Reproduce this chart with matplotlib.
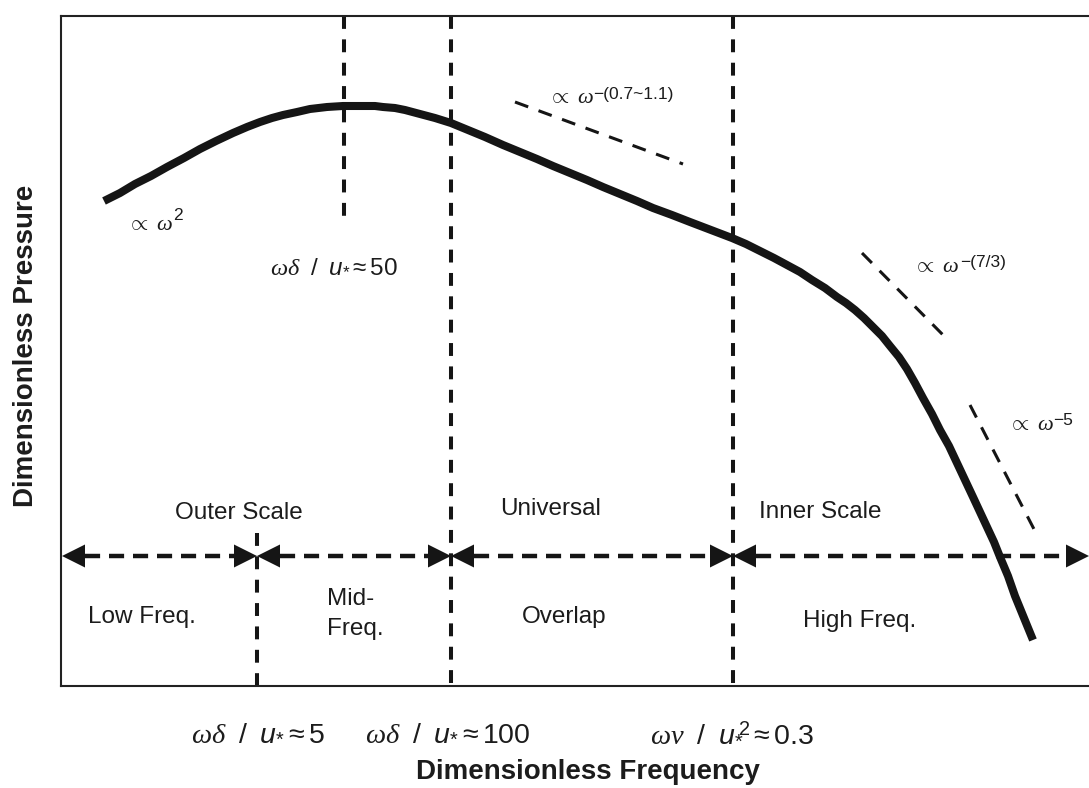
import matplotlib
matplotlib.use('Agg')
import matplotlib.pyplot as plt

# schematic coordinates (pixel-like units, y grows downward)
curve_x = [104, 120, 135, 151, 167, 184, 200, 216, 233, 247, 260, 272, 283, 297,
           310, 327, 343, 355, 365, 375, 383, 395, 405, 420, 435, 451, 468, 485,
           503, 520, 537, 553, 570, 587, 603, 620, 637, 653, 672, 690, 711, 732,
           746, 760, 774, 787, 800, 812, 825, 837, 846, 855, 864, 873, 882, 890,
           899, 907, 915, 923, 932, 940, 949, 957, 965, 973, 980, 987, 994, 1000,
           1008, 1015, 1024, 1033]
curve_y = [201, 193, 184, 176, 167, 158, 149, 141, 133, 127, 122, 118, 115, 112,
           109, 107, 106, 106, 106, 106, 107, 108, 110, 114, 118, 123, 130, 137,
           145, 152, 159, 166, 173, 180, 187, 194, 201, 208, 215, 222, 230, 238,
           244, 251, 258, 265, 272, 280, 288, 297, 303, 310, 318, 327, 336, 346,
           357, 369, 383, 398, 414, 430, 446, 463, 480, 497, 512, 527, 542, 557,
           576, 596, 618, 640]

peak_x = 344
boundary_x = [257, 451, 733]
region_edges = [62, 257, 451, 733, 1089]

# power-law guide lines
slope1_x, slope1_y = [515, 683], [102, 164]
slope2_x, slope2_y = [862, 948], [253, 340]
slope3_x, slope3_y = [970, 1037], [405, 535]

# power-law labels: base position and exponent position
exponents = ['2', '\u2212(0.7~1.1)', '\u2212(7/3)', '\u22125']
base_pos = [(127, 230), (548, 103), (913, 272), (1008, 430)]
exp_pos = [(173, 220), (593, 99), (960, 267), (1053, 425)]

plt.rcParams['font.family'] = ['Liberation Sans', 'DejaVu Sans']
plt.rcParams['mathtext.fontset'] = 'custom'
plt.rcParams['mathtext.rm'] = 'Liberation Sans'
plt.rcParams['mathtext.it'] = 'Liberation Serif:italic'
plt.rcParams['mathtext.sf'] = 'Liberation Sans:italic'
plt.rcParams['mathtext.bf'] = 'Liberation Sans:bold'

ink = '#151515'
txt = '#1c1c1c'

fig = plt.figure(figsize=(10.89, 7.88), dpi=100)
ax = fig.add_axes([61 / 1089, 102 / 788, (1100 - 61) / 1089, 670 / 788])
ax.set_xlim(61, 1100)
ax.set_ylim(686, 16)
ax.set_xticks([])
ax.set_yticks([])
for s in ['top', 'left', 'bottom']:
    ax.spines[s].set_linewidth(1.5)
    ax.spines[s].set_color('#222222')
ax.spines['right'].set_visible(False)

# main spectrum
ax.plot(curve_x, curve_y, color=ink, lw=5.8, solid_capstyle='butt',
        solid_joinstyle='round', zorder=5)

# vertical dashed markers
ax.plot([peak_x, peak_x], [16, 220], color=ink, lw=2.9, ls=(0, (3.2, 2.6)))
ax.plot([boundary_x[0]] * 2, [533, 686], color=ink, lw=2.9, ls=(0, (3.2, 2.6)))
for bx in boundary_x[1:]:
    ax.plot([bx, bx], [16, 686], color=ink, lw=2.9, ls=(0, (3.2, 2.6)))

# slope guides
for sx, sy in [(slope1_x, slope1_y), (slope2_x, slope2_y), (slope3_x, slope3_y)]:
    ax.plot(sx, sy, color=ink, lw=2.2, ls=(0, (4.6, 3.6)), solid_capstyle='butt')

# region arrows
arrow_y = 556
head_len, head_w = 23, 11.5
for x0, x1 in zip(region_edges[:-1], region_edges[1:]):
    ax.plot([x0 + head_len, x1 - head_len], [arrow_y, arrow_y], color=ink,
            lw=3.2, ls=(0, (3.4, 2.0)), clip_on=False)
    ax.fill([x0, x0 + head_len, x0 + head_len],
            [arrow_y, arrow_y - head_w, arrow_y + head_w], color=ink, lw=0,
            clip_on=False)
    ax.fill([x1, x1 - head_len, x1 - head_len],
            [arrow_y, arrow_y - head_w, arrow_y + head_w], color=ink, lw=0,
            clip_on=False)

# power-law labels
for (bx, by), (ex, ey), e in zip(base_pos, exp_pos, exponents):
    ax.text(bx, by, r'$\propto\ \omega$', fontsize=16, color=txt, va='baseline')
    ax.text(ex, ey, e, fontsize=12.5, color=txt, va='baseline')

ax.text(334, 272, r'$\omega\delta\ \ /\ \ \mathsf{u}_{*}\approx 50$', fontsize=17.5,
        color=txt, ha='center', va='baseline')

# region names
ax.text(239, 519, 'Outer Scale', fontsize=17.5, color=txt, ha='center', va='baseline')
ax.text(551, 515, 'Universal', fontsize=17.5, color=txt, ha='center', va='baseline')
ax.text(820, 518, 'Inner Scale', fontsize=17.5, color=txt, ha='center', va='baseline')
ax.text(142, 623, 'Low Freq.', fontsize=17.5, color=txt, ha='center', va='baseline')
ax.text(327, 605, 'Mid-', fontsize=17.5, color=txt, ha='left', va='baseline')
ax.text(327, 635, 'Freq.', fontsize=17.5, color=txt, ha='left', va='baseline')
ax.text(564, 623, 'Overlap', fontsize=17.5, color=txt, ha='center', va='baseline')
ax.text(860, 627, 'High Freq.', fontsize=17.5, color=txt, ha='center', va='baseline')

# boundary values under the axis
ax.text(258, 740, r'$\omega\delta\ \ /\ \ \mathsf{u}_{*}\approx 5$', fontsize=20.5,
        color=txt, ha='center', va='baseline', clip_on=False)
ax.text(448, 740, r'$\omega\delta\ \ /\ \ \mathsf{u}_{*}\approx 100$', fontsize=20.5,
        color=txt, ha='center', va='baseline', clip_on=False)
ax.text(732, 740, r'$\omega\nu\ \ /\ \ {\mathsf{u}_{*}}^{\!\!2}\approx 0.3$',
        fontsize=20.5, color=txt, ha='center', va='baseline', clip_on=False)

ax.text(588, 779, 'Dimensionless Frequency', fontsize=20, fontweight='bold',
        color=txt, ha='center', va='baseline', clip_on=False)
ax.text(26, 346, 'Dimensionless Pressure', fontsize=20, fontweight='bold',
        color=txt, ha='center', va='center', rotation=90, clip_on=False)

fig.savefig('out.png', dpi=100)
